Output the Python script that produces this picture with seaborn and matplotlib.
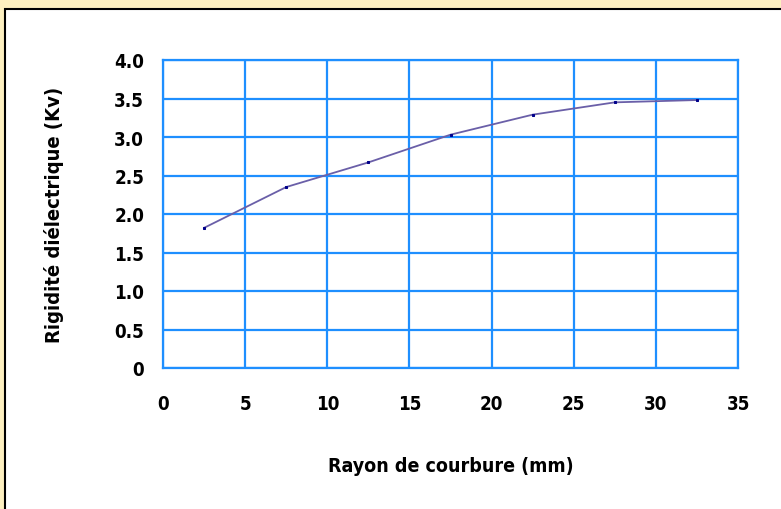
import matplotlib
matplotlib.use("Agg")
import matplotlib.pyplot as plt
import matplotlib.patches as patches
import seaborn as sns
import pandas as pd

# data
rayon = [2.5, 7.5, 12.5, 17.5, 22.5, 27.5, 32.5]
rigidite = [1.82, 2.35, 2.67, 3.03, 3.29, 3.45, 3.48]
xticks = [0, 5, 10, 15, 20, 25, 30, 35]
yticks = [0, 0.5, 1.0, 1.5, 2.0, 2.5, 3.0, 3.5, 4.0]
ylabels = ["0", "0.5", "1.0", "1.5", "2.0", "2.5", "3.0", "3.5", "4.0"]

df = pd.DataFrame({"rayon": rayon, "rigidite": rigidite})

sns.set_style("white")
plt.rcParams["font.family"] = ["DejaVu Sans", "Liberation Sans"]
plt.rcParams["font.stretch"] = "condensed"
plt.rcParams["text.color"] = "black"
plt.rcParams["xtick.color"] = "black"
plt.rcParams["ytick.color"] = "black"
plt.rcParams["axes.labelcolor"] = "black"

fig = plt.figure(figsize=(7.81, 5.10), dpi=100)
fig.patch.set_facecolor("#fdf0c0")
# white frame with black border
fig.patches.append(patches.Rectangle((5 / 781, -0.01), 1.0, 1.01 - 10 / 510,
                                     transform=fig.transFigure, facecolor="white",
                                     edgecolor="black", linewidth=1.5, zorder=-5))

ax = fig.add_axes([163 / 781, 1 - 369 / 510, (738 - 163) / 781, (369 - 61) / 510])
ax.set_zorder(5)
ax.set_facecolor("white")

sns.lineplot(data=df, x="rayon", y="rigidite", ax=ax, color="#6a5fa8",
             linewidth=1.3, marker="s", markersize=2, markerfacecolor="#00008b",
             markeredgecolor="#00008b", zorder=3)

ax.set_xlim(0, 35)
ax.set_ylim(0, 4.0)
ax.set_xticks(xticks)
ax.set_yticks(yticks)
ax.set_yticklabels(ylabels)
ax.grid(True, color="#1e8fff", linewidth=1.6)
ax.set_axisbelow(True)
for s in ax.spines.values():
    s.set_color("#1e8fff")
    s.set_linewidth(1.6)

ax.tick_params(axis="y", length=3.6, color="#888888", width=1, pad=10, labelsize=13.5)
ax.tick_params(axis="x", length=0, pad=19, labelsize=13.5)
for t in ax.get_xticklabels() + ax.get_yticklabels():
    t.set_fontweight("bold")

ax.set_xlabel("Rayon de courbure (mm)", fontsize=14, fontweight="bold", labelpad=31)
ax.set_ylabel("Rigidité diélectrique (Kv)", fontsize=14.5, fontweight="bold", labelpad=36)

fig.savefig("out.png", dpi=100, facecolor=fig.get_facecolor())
